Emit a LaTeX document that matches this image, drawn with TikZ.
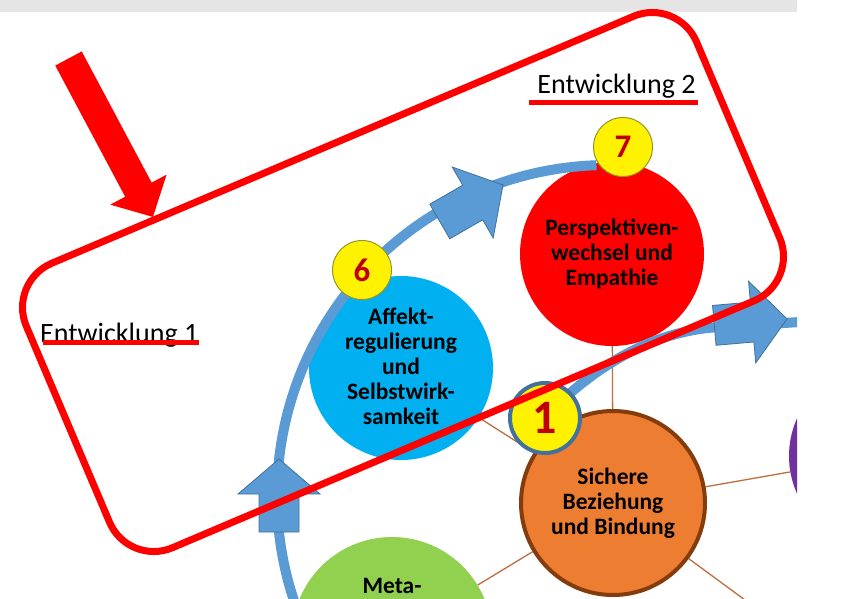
\documentclass[tikz,border=0pt]{standalone}
\usepackage{fontspec}
\setmainfont{Carlito}
\usetikzlibrary{arrows.meta,backgrounds}
\definecolor{flowblue}{RGB}{91,155,213}
\definecolor{flowedge}{RGB}{65,113,156}
\definecolor{bindorange}{RGB}{237,125,49}
\definecolor{bindbrown}{RGB}{132,60,12}
\definecolor{affcyan}{RGB}{0,176,240}
\definecolor{metagreen}{RGB}{146,208,80}
\definecolor{lila}{RGB}{112,48,160}
\definecolor{numred}{RGB}{192,0,0}
\definecolor{bargray}{RGB}{229,229,229}
\definecolor{connbrown}{RGB}{190,110,60}
\definecolor{badgeline}{RGB}{150,150,40}
% fat arrow on the blue path, tip at #1, pointing to angle #2
\newcommand{\blockarr}[2]{%
  \filldraw[fill=flowblue,draw=flowedge,line width=0.8pt,shift={#1},rotate=#2]
    (-73,-20) -- (-35,-20) -- (-35,-41) -- (0,0) -- (-35,41) -- (-35,20) -- (-73,20) -- cycle;}

\begin{document}
\begin{tikzpicture}[x=1pt,y=-1pt,
   circ/.style={circle,minimum size=184pt,inner sep=0pt,align=center,
                font=\bfseries\fontsize{23.5}{25}\selectfont},
   badge/.style={circle,fill=yellow,draw=badgeline,line width=1pt,minimum size=59pt,
                 inner sep=0pt,text=numred,font=\bfseries\fontsize{33}{33}\selectfont},
   conn/.style={draw=connbrown,line width=1.3pt},
   flow/.style={flowblue,line width=10pt},
   frame/.style={draw=red,line width=7pt,rounded corners=48pt,inner sep=0pt},
   uline/.style={red,line width=5pt},
   title/.style={inner sep=0pt,font=\fontsize{28}{30}\selectfont}]
   \useasboundingbox (0,0) rectangle (862,598);
   \fill[bargray] (0,0) rectangle (797,12);
   \begin{scope}
    \clip (0,12) rectangle (797,598);
    % circles
    \node[circ,fill=red] (persp) at (612,254) {Perspektiven-\\wechsel und\\Empathie};
    \node[circ,fill=affcyan] (affekt) at (401,368) {Affekt-\\regulierung\\und\\Selbstwirk-\\samkeit\vphantom{g}};
    \node[circ,fill=bindorange,draw=bindbrown,line width=4pt] (bind) at (613,503) {Sichere\\Beziehung\\und Bindung};
    \node[circ,fill=metagreen,minimum size=200pt] (meta) at (392,637) {};
    \node[anchor=base,inner sep=0pt,font=\bfseries\fontsize{23.5}{25}\selectfont] (metatxt) at (392,593) {Meta-};
    \node[circ,fill=lila] (lila) at (881,456) {};
    \coordinate (lowright) at (745,600);
    \begin{pgfonlayer}{background}
     \fill[white] (0,12) rectangle (862,598);
     \draw[conn] (bind) -- (persp);
     \draw[conn] (bind) -- (affekt);
     \draw[conn] (bind) -- (lila);
     \draw[conn] (bind) -- (meta);
     \draw[conn] (bind) -- (lowright);
    \end{pgfonlayer}
    % blue path
    \draw[flow] ([shift={(155:331)}]608,496) arc[start angle=155,end angle=268,radius=331];
    \draw[flow] (545,417) .. controls (600,360) and (660,330) .. (720,327) -- (800,322);
    \blockarr{(279,459)}{90}
    \blockarr{(503,185)}{30}
    \blockarr{(787,319)}{5}
    % numbers
    \node[badge] (b6) at (362,270) {6};
    \node[badge] (b7) at (623,147) {7};
    \node[badge,draw=flowedge,line width=4pt,minimum size=70pt,
          font=\bfseries\fontsize{48}{48}\selectfont] (b1) at (545,418) {1};
   \end{scope}
   % frame and labels
   \node[frame,rotate=23,minimum width=728pt,minimum height=309pt] (frame) at (403,282) {};
   \node[title,anchor=base] (ent2) at (616.5,93) {Entwicklung 2};
   \draw[uline] ([xshift=-8pt,yshift=-9.5pt]ent2.base west) -- ([xshift=2pt,yshift=-9.5pt]ent2.base east);
   \node[title,anchor=base west] (ent1) at (40,342) {Entwicklung 1};
   \draw[uline] ([xshift=3pt,yshift=-0.5pt]ent1.base west) -- ([xshift=1pt,yshift=-0.5pt]ent1.base east);
   \coordinate (arrtail) at (68.5,58.5);
   \coordinate (arrtip) at (153,217);
   \draw[red,line width=30pt,-{Triangle[width=62pt,length=31pt]}] (arrtail) -- (arrtip);
\end{tikzpicture}
\end{document}
